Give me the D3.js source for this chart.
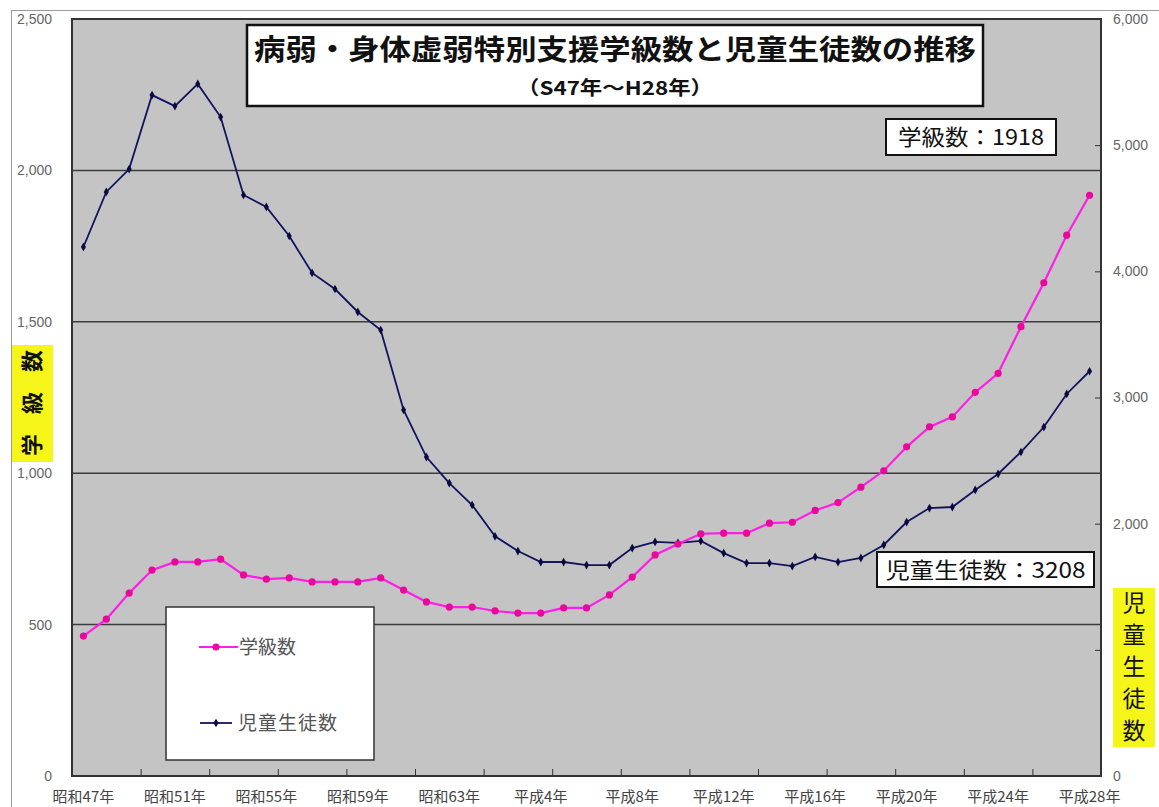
<!DOCTYPE html>
<html>
<head>
<meta charset="utf-8">
<script src="https://cdn.jsdelivr.net/npm/d3@7"></script>
<style>
  body { margin: 0; background: #fff; }
  text { font-family: "Noto Sans CJK JP", "Noto Sans", sans-serif; }
</style>
</head>
<body>
<svg id="chart" width="1159" height="807"></svg>
<script>
// 年度（昭和47年〜平成28年）
const years = [
  "昭和47年","昭和48年","昭和49年","昭和50年","昭和51年","昭和52年","昭和53年","昭和54年",
  "昭和55年","昭和56年","昭和57年","昭和58年","昭和59年","昭和60年","昭和61年","昭和62年",
  "昭和63年","平成元年","平成2年","平成3年","平成4年","平成5年","平成6年","平成7年",
  "平成8年","平成9年","平成10年","平成11年","平成12年","平成13年","平成14年","平成15年",
  "平成16年","平成17年","平成18年","平成19年","平成20年","平成21年","平成22年","平成23年",
  "平成24年","平成25年","平成26年","平成27年","平成28年"
];

// 学級数（左軸）
const classCounts = [
  462, 518, 604, 680, 707, 707, 716, 664, 650, 654, 641, 641, 641, 654, 614, 575,
  558, 558, 545, 538, 538, 555, 555, 598, 657, 730, 766, 800, 802, 802, 835, 838,
  877, 903, 954, 1008, 1087, 1153, 1186, 1267, 1330, 1484, 1629, 1786, 1918
];

// 児童生徒数（右軸）
const studentCounts = [
  4193, 4629, 4811, 5397, 5310, 5485, 5223, 4605, 4510, 4280, 3987, 3860, 3678, 3535, 2901, 2528,
  2322, 2148, 1900, 1783, 1696, 1696, 1672, 1672, 1807, 1855, 1847, 1863, 1767, 1688, 1688, 1664,
  1736, 1696, 1728, 1831, 2013, 2124, 2132, 2267, 2394, 2568, 2766, 3028, 3208
];

const leftTicks = [0, 500, 1000, 1500, 2000, 2500];
const rightTicks = [0, 1000, 2000, 3000, 4000, 5000, 6000];

const titleText = "病弱・身体虚弱特別支援学級数と児童生徒数の推移";
const subtitleText = "（S47年～H28年）";
const leftAxisTitle = "学級数";
const rightAxisTitle = "児童生徒数";
const seriesNames = ["学級数", "児童生徒数"];

const svg = d3.select("#chart");
const plot = { left: 72, right: 1101, top: 19, bottom: 776 };

// outer frame edges
svg.append("line").attr("x1", 11).attr("x2", 1159).attr("y1", 10.5).attr("y2", 10.5)
  .attr("stroke", "#9a9a9a").attr("stroke-width", 1);
svg.append("line").attr("x1", 11.5).attr("x2", 11.5).attr("y1", 10).attr("y2", 807)
  .attr("stroke", "#9a9a9a").attr("stroke-width", 1);

const x = d3.scaleLinear().domain([0, years.length]).range([plot.left, plot.right]);
const cx = i => x(i + 0.5);
const yL = d3.scaleLinear().domain([0, 2500]).range([plot.bottom, plot.top]);
const yR = d3.scaleLinear().domain([0, 6000]).range([plot.bottom, plot.top]);

// plot area
svg.append("rect")
  .attr("x", plot.left).attr("y", plot.top)
  .attr("width", plot.right - plot.left).attr("height", plot.bottom - plot.top)
  .attr("fill", "#c4c4c4");

// horizontal gridlines
svg.append("g").selectAll("line")
  .data(leftTicks.filter(v => v > 0 && v < 2500))
  .join("line")
  .attr("x1", plot.left).attr("x2", plot.right)
  .attr("y1", d => yL(d)).attr("y2", d => yL(d))
  .attr("stroke", "#3c3c3c").attr("stroke-width", 1.5);

// x axis tick marks (every 3 categories, pointing up)
const xAxis = d3.axisBottom(x)
  .tickValues(d3.range(0, years.length + 1, 3))
  .tickSize(-7).tickFormat("");
svg.append("g").attr("transform", `translate(0,${plot.bottom})`).call(xAxis)
  .call(g => g.select(".domain").remove())
  .call(g => g.selectAll("line").attr("stroke", "#333").attr("stroke-width", 1));

// x labels every 4 categories
svg.append("g").selectAll("text")
  .data(years.map((y, i) => ({ y, i })).filter(d => d.i % 4 === 0))
  .join("text")
  .attr("x", d => cx(d.i)).attr("y", 802)
  .attr("text-anchor", "middle")
  .attr("font-size", 15).attr("fill", "#444")
  .text(d => d.y);

// left axis
svg.append("g").attr("transform", `translate(${plot.left},0)`)
  .call(d3.axisLeft(yL).tickValues(leftTicks).tickSize(0).tickPadding(20).tickFormat(d3.format(",")))
  .call(g => g.select(".domain").remove())
  .call(g => g.selectAll("text").attr("font-size", 14).attr("fill", "#666")
    .style("font-family", "'Liberation Sans', Arial, sans-serif"));

// right axis
svg.append("g").attr("transform", `translate(${plot.right},0)`)
  .call(d3.axisRight(yR).tickValues(rightTicks).tickSizeInner(-6).tickSizeOuter(0).tickPadding(12).tickFormat(d3.format(",")))
  .call(g => g.select(".domain").remove())
  .call(g => g.selectAll("line").attr("stroke", "#333"))
  .call(g => g.selectAll("text").attr("font-size", 14).attr("fill", "#666")
    .style("font-family", "'Liberation Sans', Arial, sans-serif"));

// plot border
svg.append("rect")
  .attr("x", plot.left).attr("y", plot.top)
  .attr("width", plot.right - plot.left).attr("height", plot.bottom - plot.top)
  .attr("fill", "none").attr("stroke", "#333").attr("stroke-width", 2);

// series: 児童生徒数 (right axis)
const lineR = d3.line().x((d, i) => cx(i)).y(d => yR(d));
svg.append("path").datum(studentCounts)
  .attr("d", lineR).attr("fill", "none")
  .attr("stroke", "#12125e").attr("stroke-width", 1.8);
svg.append("g").selectAll("path")
  .data(studentCounts).join("path")
  .attr("transform", (d, i) => `translate(${cx(i)},${yR(d)})`)
  .attr("d", d3.symbol(d3.symbolDiamond, 22))
  .attr("fill", "#0a0a40");

// series: 学級数 (left axis)
const lineL = d3.line().x((d, i) => cx(i)).y(d => yL(d));
svg.append("path").datum(classCounts)
  .attr("d", lineL).attr("fill", "none")
  .attr("stroke", "#ff1ee6").attr("stroke-width", 2.2);
svg.append("g").selectAll("circle")
  .data(classCounts).join("circle")
  .attr("cx", (d, i) => cx(i)).attr("cy", d => yL(d)).attr("r", 3.6)
  .attr("fill", "#e8089c");

// title box
svg.append("rect").attr("x", 247).attr("y", 25).attr("width", 736).attr("height", 81)
  .attr("fill", "#fff").attr("stroke", "#111").attr("stroke-width", 2.5);
svg.append("text").attr("x", 615).attr("y", 60).attr("text-anchor", "middle")
  .attr("font-size", 28).attr("font-weight", 700).attr("fill", "#111")
  .attr("textLength", 722).attr("lengthAdjust", "spacingAndGlyphs")
  .text(titleText);
svg.append("text").attr("x", 615).attr("y", 95).attr("text-anchor", "middle")
  .attr("font-size", 19).attr("font-weight", 700).attr("fill", "#111")
  .attr("textLength", 196).attr("lengthAdjust", "spacingAndGlyphs")
  .text(subtitleText);

// end value call-outs
const lastIdx = years.length - 1;
function callout(x0, y0, w, h, label, value, tl) {
  svg.append("rect").attr("x", x0).attr("y", y0).attr("width", w).attr("height", h)
    .attr("fill", "#fff").attr("stroke", "#111").attr("stroke-width", 2);
  svg.append("text").attr("x", x0 + w / 2).attr("y", y0 + h / 2 + 8)
    .attr("text-anchor", "middle").attr("font-size", 22).attr("fill", "#111")
    .attr("textLength", tl).attr("lengthAdjust", "spacingAndGlyphs")
    .text(`${label}：${value}`);
}
callout(886, 119, 170, 36, seriesNames[0], classCounts[lastIdx], 146);
callout(877, 552, 217, 35, seriesNames[1], studentCounts[lastIdx], 200);

// legend
svg.append("rect").attr("x", 166).attr("y", 607).attr("width", 208).attr("height", 153)
  .attr("fill", "#fff").attr("stroke", "#333").attr("stroke-width", 1.5);
svg.append("line").attr("x1", 199).attr("x2", 238).attr("y1", 647).attr("y2", 647)
  .attr("stroke", "#ff1ee6").attr("stroke-width", 2.2);
svg.append("circle").attr("cx", 216).attr("cy", 647).attr("r", 3.6).attr("fill", "#e8089c");
svg.append("text").attr("x", 239).attr("y", 654).attr("font-size", 19).attr("fill", "#555")
  .text(seriesNames[0]);
svg.append("line").attr("x1", 200).attr("x2", 232).attr("y1", 723).attr("y2", 723)
  .attr("stroke", "#12125e").attr("stroke-width", 1.8);
svg.append("path").attr("transform", "translate(216,723)")
  .attr("d", d3.symbol(d3.symbolDiamond, 22)).attr("fill", "#0a0a40");
svg.append("text").attr("x", 238).attr("y", 730).attr("font-size", 19).attr("fill", "#555")
  .attr("letter-spacing", 1)
  .text(seriesNames[1]);

// left axis title (rotated)
svg.append("rect").attr("x", 12).attr("y", 345).attr("width", 41).attr("height", 117)
  .attr("fill", "#f5f51a");
svg.append("text")
  .attr("transform", "translate(40,403) rotate(-90)")
  .attr("text-anchor", "middle").attr("font-size", 22).attr("font-weight", 700).attr("fill", "#111")
  .attr("textLength", 106).attr("lengthAdjust", "spacing")
  .text(leftAxisTitle);

// right axis title (vertical writing)
svg.append("rect").attr("x", 1113).attr("y", 588).attr("width", 42).attr("height", 159)
  .attr("fill", "#f5f51a");
svg.append("text")
  .attr("x", 1134).attr("y", 591)
  .style("writing-mode", "vertical-rl")
  .attr("font-size", 23).attr("fill", "#111")
  .attr("letter-spacing", 9)
  .text(rightAxisTitle);
</script>
</body>
</html>
